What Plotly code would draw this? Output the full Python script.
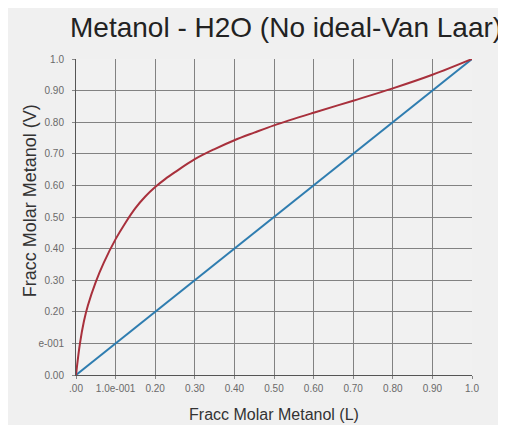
import plotly.graph_objects as go

# Data
x_liq = [0, 0.01, 0.02, 0.03, 0.05, 0.07, 0.10, 0.125, 0.15, 0.175, 0.20, 0.225, 0.25, 0.30,
         0.35, 0.40, 0.45, 0.50, 0.60, 0.70, 0.80, 0.90, 1.0]
y_vap = [0, 0.10, 0.17, 0.22, 0.295, 0.355, 0.43, 0.482, 0.528, 0.565, 0.595, 0.62, 0.642, 0.683,
         0.715, 0.743, 0.767, 0.79, 0.83, 0.868, 0.907, 0.95, 1.0]
diag_x = [0, 1]
diag_y = [0, 1]

tick_vals = [0, 0.1, 0.2, 0.3, 0.4, 0.5, 0.6, 0.7, 0.8, 0.9, 1.0]
x_tick_text = [".00", "1.0e-001", "0.20", "0.30", "0.40", "0.50", "0.60", "0.70", "0.80", "0.90", "1.0"]
y_tick_text = ["0.00", "e-001", "0.20", "0.30", "0.40", "0.50", "0.60", "0.70", "0.80", "0.90", "1.0"]

title_text = "Metanol - H2O (No ideal-Van Laar)"
x_title = "Fracc Molar Metanol (L)"
y_title = "Fracc Molar Metanol (V)"

fig = go.Figure()
fig.add_trace(go.Scatter(x=diag_x, y=diag_y, mode="lines",
                         line=dict(color="#2f7db0", width=2), showlegend=False))
fig.add_trace(go.Scatter(x=x_liq, y=y_vap, mode="lines", line_shape="spline",
                         line=dict(color="#a8303c", width=2), showlegend=False))

axis_common = dict(range=[0, 1], tickvals=tick_vals, showgrid=True,
                   gridcolor="#828282", gridwidth=1, zeroline=False,
                   showline=True, linecolor="#555555", linewidth=1,
                   ticks="outside", ticklen=3, tickcolor="#888888",
                   automargin=False,
                   tickfont=dict(family="Liberation Sans, Arial", size=10, color="#6a6a6a"),
                   mirror=False, fixedrange=True)

fig.update_xaxes(**axis_common, ticktext=x_tick_text, ticklabelstandoff=1,
                 title=dict(text=x_title, font=dict(family="Liberation Sans, Arial", size=16, color="#333333")))
fig.update_yaxes(**axis_common, ticktext=y_tick_text, ticklabelstandoff=6)

fig.add_annotation(text=y_title, textangle=-90, xref="paper", yref="paper",
                   x=-46/396, y=0.55, xanchor="center", yanchor="middle", showarrow=False,
                   font=dict(family="Liberation Sans, Arial", size=18, color="#333333"))

fig.update_layout(
    width=506, height=425,
    margin=dict(l=68, r=42, t=51, b=58),
    paper_bgcolor="#f0f0f0",
    plot_bgcolor="#f1f1f1",
    title=dict(text=title_text, x=62/506, xanchor="left", xref="container",
               y=1 - 19/425, yanchor="middle", yref="container",
               pad=dict(l=0, r=0, t=0, b=0),
               font=dict(family="Liberation Sans, Arial", size=28, color="#222222")),
    showlegend=False,
)

fig.write_html("out.html")
